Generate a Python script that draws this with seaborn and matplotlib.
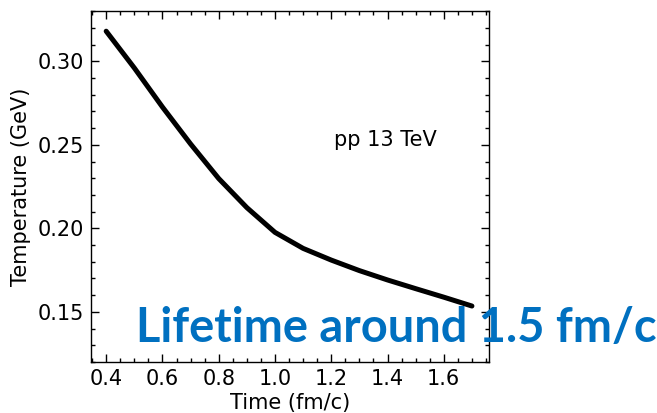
import matplotlib
matplotlib.use("Agg")
import matplotlib.pyplot as plt
import seaborn as sns
import pandas as pd
from matplotlib.ticker import MultipleLocator

time_fm = [0.4, 0.5, 0.6, 0.7, 0.8, 0.9, 1.0, 1.1, 1.2, 1.3, 1.4, 1.5, 1.6, 1.7]
temp_gev = [0.318, 0.296, 0.2726, 0.2505, 0.2298, 0.2124, 0.1976, 0.1880, 0.1810,
            0.1747, 0.1691, 0.1639, 0.1588, 0.1535]
system_label = "pp 13 TeV"
headline = "Lifetime around 1.5 fm/c"
x_label = "Time (fm/c)"
y_label = "Temperature (GeV)"

sns.set_theme(style="ticks")
plt.rcParams["font.family"] = ["DejaVu Sans"]

df = pd.DataFrame({"t": time_fm, "T": temp_gev})

fig = plt.figure(figsize=(6.57, 4.13), dpi=100)
ax = fig.add_axes([0.1385, 0.1235, 0.6055, 0.8495])
sns.lineplot(data=df, x="t", y="T", ax=ax, color="black", linewidth=3.6)

ax.set_xlim(0.346, 1.76)
ax.set_ylim(0.12, 0.33)
ax.xaxis.set_major_locator(MultipleLocator(0.2))
ax.xaxis.set_minor_locator(MultipleLocator(0.05))
ax.yaxis.set_major_locator(MultipleLocator(0.05))
ax.yaxis.set_minor_locator(MultipleLocator(0.01))
ax.xaxis.set_major_formatter(matplotlib.ticker.FormatStrFormatter("%.1f"))
ax.yaxis.set_major_formatter(matplotlib.ticker.FormatStrFormatter("%.2f"))
ax.tick_params(which="both", direction="in", top=True, right=True, colors="black")
ax.tick_params(which="major", length=6, width=1, labelsize=15, pad=5)
ax.tick_params(which="minor", length=3, width=1)
for s in ax.spines.values():
    s.set_color("black")
    s.set_linewidth(1)

ax.set_xlabel(x_label, fontsize=15, color="black", labelpad=3)
ax.set_ylabel(y_label, fontsize=15, color="black", labelpad=5)

ax.text(1.393, 0.2527, system_label, fontsize=15, ha="center", va="center", color="black")

fig.text(0.207, 0.172, headline, fontsize=33.8, fontweight="bold", family=["Lato", "DejaVu Sans"],
         color="#0070C0", ha="left", va="baseline")

fig.savefig("out.png", dpi=100)
